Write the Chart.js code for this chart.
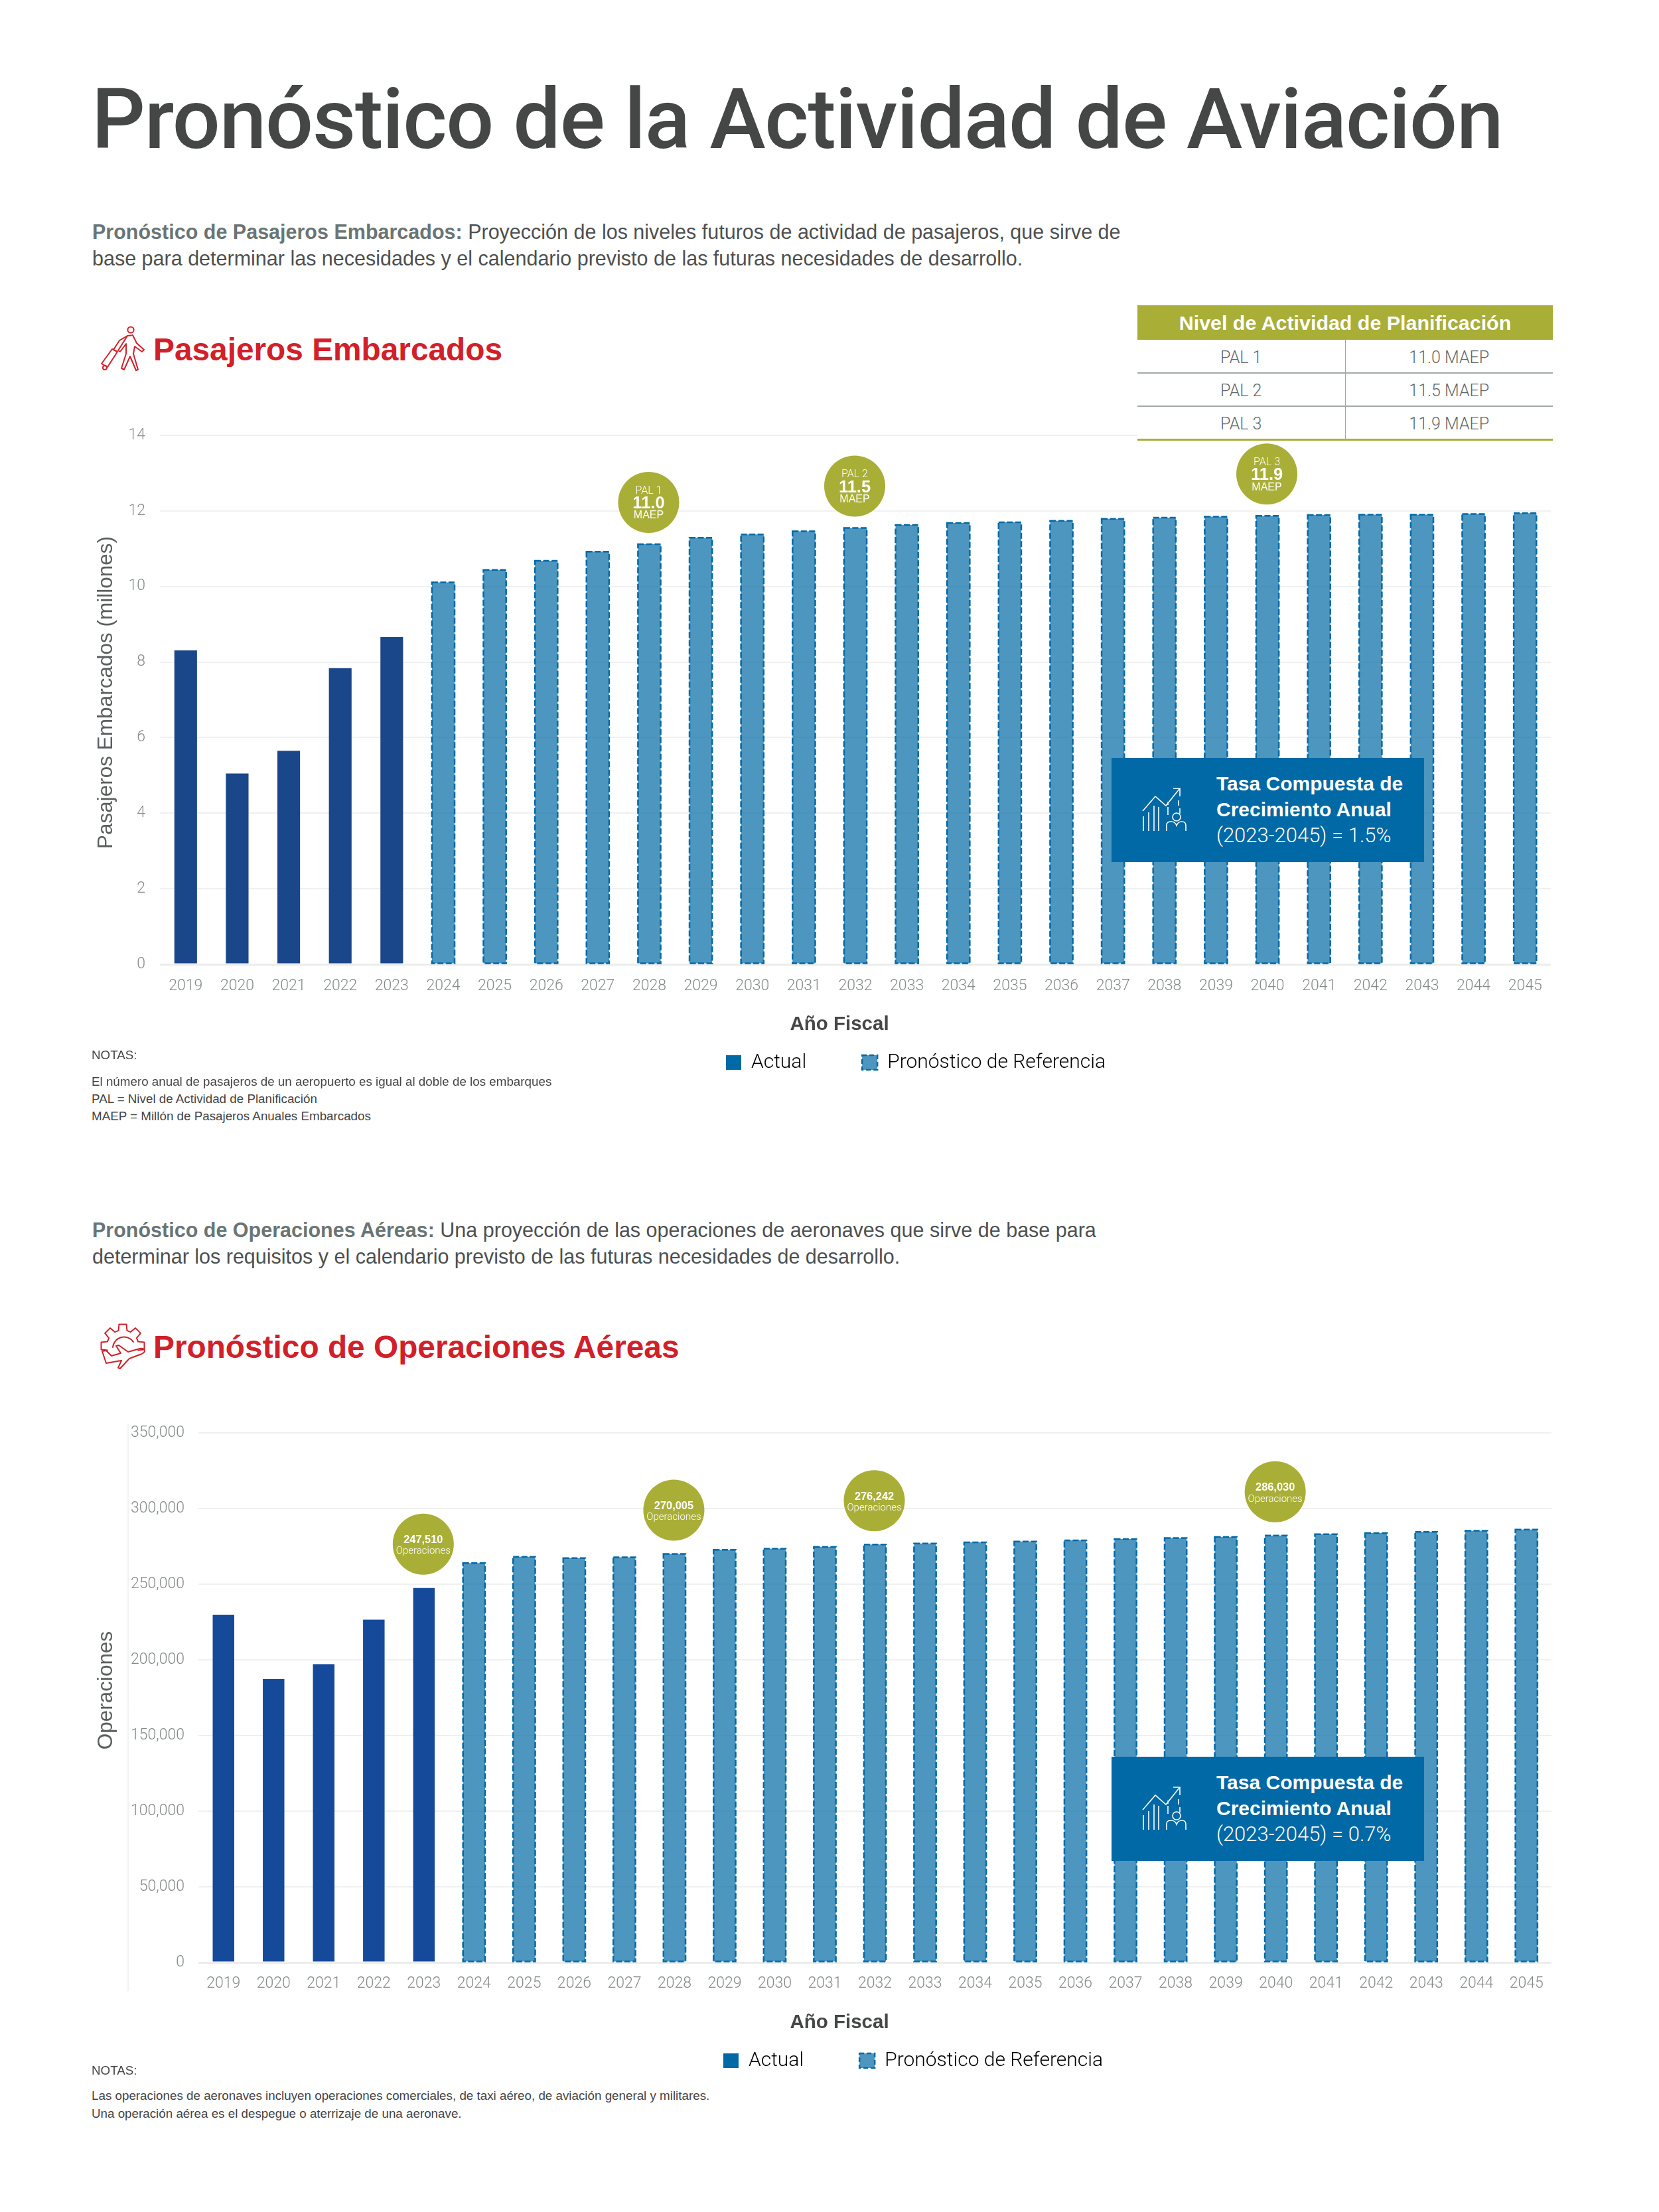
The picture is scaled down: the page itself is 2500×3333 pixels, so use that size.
<!DOCTYPE html>
<html lang="es">
<head>
<meta charset="utf-8">
<title>Pronóstico de la Actividad de Aviación</title>
<script src="https://cdn.jsdelivr.net/npm/chart.js@4"></script>
<style>
  html, body { margin: 0; padding: 0; background: #fff; }
  #pagina { position: relative; width: 2500px; height: 3333px; overflow: hidden; font-family: "Liberation Sans", sans-serif; }
  #pagina > * { position: absolute; }
  canvas { left: 0; z-index: 1; }
  .sobre { z-index: 2; white-space: nowrap; }
  h1 { margin: 0; left: 138px; top: 106px; font-family: Roboto, sans-serif; font-size: 127px; letter-spacing: -1.25px; line-height: 148px; font-weight: 500; color: #444746; white-space: nowrap; }
  .parrafo { left: 139px; font-size: 30.5px; line-height: 39.5px; color: #4d5050; white-space: nowrap; }
  .parrafo b { color: #6a7574; }
  h2 { margin: 0; left: 231px; font-size: 47.8px; line-height: 60px; font-weight: bold; color: #d2202a; white-space: nowrap; }
  .notas { left: 138px; font-size: 18.8px; color: #444; white-space: nowrap; }
  .notas div { position: absolute; left: 0; line-height: 26px; }
  #tabla { left: 1714px; top: 460px; width: 626px; height: 204px; background: #fff; border-collapse: collapse; table-layout: fixed; font-size: 25px; color: #5f6868; }
  #tabla th { height: 51px; padding: 0; background: #a9ae37; color: #fff; font-size: 30.4px; font-weight: bold; }
  #tabla td { height: 49px; padding: 3px 0 0 0; box-sizing: border-box; text-align: center; border-bottom: 2px solid #a3a8a8; font-family: Roboto, sans-serif; font-weight: 300; }
  #tabla td + td { border-left: 1.5px solid #a3a8a8; }
  #tabla tr:last-child td { border-bottom: 3px solid #a9ae37; }
  .tasa { left: 1675px; width: 471px; height: 157px; background: #0169a5; color: #fff; font-size: 30px; }
  .tasa div { position: absolute; left: 158px; line-height: 39px; }
  .tasa svg { position: absolute; left: 46px; top: 44px; }
</style>
</head>
<body>
<div id="pagina">
  <h1>Pronóstico de la Actividad de Aviación</h1>

  <div class="parrafo" style="top:330px"><b>Pronóstico de Pasajeros Embarcados:</b> Proyección de los niveles futuros de actividad de pasajeros, que sirve de<br>base para determinar las necesidades y el calendario previsto de las futuras necesidades de desarrollo.</div>

  <svg class="sobre" style="left:150px;top:491px" width="69" height="68" viewBox="0 0 69 68" fill="none" stroke="#d2202a" stroke-width="2" stroke-linejoin="round" stroke-linecap="round">
    <circle cx="47" cy="6" r="4.6"/>
    <path d="M42 15 L50 14 L56 26 L67 36 L64 39 L53 31 L51 42 L58 66 L55 67 L46 46 L37 66 L33 64 L40 42 L40 27 L31 39 L28 37 Z"/>
    <path d="M19 35 L27 39 L12 62 L3 57 Z"/>
    <path d="M21 36 L30 22 L42 15"/>
    <circle cx="8" cy="63" r="3"/>
  </svg>
  <h2 style="top:497px">Pasajeros Embarcados</h2>

  <canvas id="graficoPasajeros" width="2500" height="1087" style="top:620px"></canvas>

  <table id="tabla" class="sobre">
    <tr><th colspan="2">Nivel de Actividad de Planificación</th></tr>
    <tr><td>PAL 1</td><td>11.0 MAEP</td></tr>
    <tr><td>PAL 2</td><td>11.5 MAEP</td></tr>
    <tr><td>PAL 3</td><td>11.9 MAEP</td></tr>
  </table>

  <div class="tasa sobre" style="top:1142px">
    <svg class="icono-tasa" width="68" height="68" viewBox="0 0 68 68" fill="none" stroke="#fff" stroke-width="1.6"><path d="M2 44 V66 M10 38 V66 M18 28 V66 M25 30 V66 M39 30 V42 M39 22 V27 M55 20 V28 M57 32 V40 M1 36 L20 14 L36 28 L56 3 M47 2 H57 V14"/><circle cx="52" cy="45" r="6"/><path d="M37 66 V57 Q37 52 44 52 Q50 52 52 58 Q54 52 60 52 Q66 52 66 58 V66"/></svg>
    <div style="top:19px"><b>Tasa Compuesta de</b></div>
    <div style="top:58px"><b>Crecimiento Anual</b></div>
    <div style="top:97px;font-family:Roboto,sans-serif;font-weight:300;font-size:31px">(2023-2045) = 1.5%</div>
  </div>

  <div class="notas sobre" style="top:1577px">
    <div style="top:0">NOTAS:</div>
    <div style="top:40px">El número anual de pasajeros de un aeropuerto es igual al doble de los embarques</div>
    <div style="top:66px">PAL = Nivel de Actividad de Planificación</div>
    <div style="top:92px">MAEP = Millón de Pasajeros Anuales Embarcados</div>
  </div>

  <div class="parrafo" style="top:1834px"><b>Pronóstico de Operaciones Aéreas:</b> Una proyección de las operaciones de aeronaves que sirve de base para<br>determinar los requisitos y el calendario previsto de las futuras necesidades de desarrollo.</div>

  <svg id="iconoEngranaje" class="sobre" style="left:151px;top:1994px" width="68" height="70" viewBox="0 0 68 70" fill="none" stroke="#d2202a" stroke-width="2" stroke-linejoin="round" stroke-linecap="round">
    <path id="engranaje"/>
    <path d="M19 36 A17 17 0 0 1 50 28"/>
    <path d="M3 42 L9 41 L17 49 L31 45 L24 34 L28 33 L42 43 L60 38 Q67 37 67 42 Q66 45 60 47 L44 53 L30 68 L27 67 L32 56 L9 60 Z"/>
  </svg>
  <h2 style="top:2000px">Pronóstico de Operaciones Aéreas</h2>

  <canvas id="graficoOperaciones" width="2500" height="1091" style="top:2120px"></canvas>

  <div class="tasa sobre" style="top:2647px">
    <svg class="icono-tasa" width="68" height="68" viewBox="0 0 68 68" fill="none" stroke="#fff" stroke-width="1.6"><path d="M2 44 V66 M10 38 V66 M18 28 V66 M25 30 V66 M39 30 V42 M39 22 V27 M55 20 V28 M57 32 V40 M1 36 L20 14 L36 28 L56 3 M47 2 H57 V14"/><circle cx="52" cy="45" r="6"/><path d="M37 66 V57 Q37 52 44 52 Q50 52 52 58 Q54 52 60 52 Q66 52 66 58 V66"/></svg>
    <div style="top:19px"><b>Tasa Compuesta de</b></div>
    <div style="top:58px"><b>Crecimiento Anual</b></div>
    <div style="top:97px;font-family:Roboto,sans-serif;font-weight:300;font-size:31px">(2023-2045) = 0.7%</div>
  </div>

  <div class="notas sobre" style="top:3107px">
    <div style="top:0">NOTAS:</div>
    <div style="top:38px">Las operaciones de aeronaves incluyen operaciones comerciales, de taxi aéreo, de aviación general y militares.</div>
    <div style="top:65px">Una operación aérea es el despegue o aterrizaje de una aeronave.</div>
  </div>
</div>

<script>
const anios = ["2019","2020","2021","2022","2023","2024","2025","2026","2027","2028","2029","2030","2031","2032","2033","2034","2035","2036","2037","2038","2039","2040","2041","2042","2043","2044","2045"];

const pasajerosActual = [8.31, 5.05, 5.65, 7.84, 8.66];
const pasajerosPronostico = [10.11, 10.44, 10.68, 10.92, 11.12, 11.29, 11.38, 11.46, 11.55, 11.63, 11.68, 11.70, 11.74, 11.79, 11.82, 11.85, 11.87, 11.89, 11.90, 11.90, 11.92, 11.94];
const pasajerosTicks = [0, 2, 4, 6, 8, 10, 12, 14];

const operacionesActual = [229800, 187300, 197100, 226500, 247510];
const operacionesPronostico = [263900, 268100, 267200, 267800, 270005, 272700, 273500, 274700, 276242, 276900, 277600, 278200, 279000, 279800, 280500, 281300, 282100, 283000, 283800, 284500, 285300, 286030];
const operacionesTicks = [0, 50000, 100000, 150000, 200000, 250000, 300000, 350000];

const burbujasPasajerosAnios = ["2028", "2032", "2040"];
const burbujasPasajerosNombres = ["PAL 1", "PAL 2", "PAL 3"];
const burbujasPasajerosValores = ["11.0", "11.5", "11.9"];

const burbujasOperacionesAnios = ["2023", "2028", "2032", "2040"];
const burbujasOperacionesValores = ["247,510", "270,005", "276,242", "286,030"];

const nombresLeyenda = ["Actual", "Pronóstico de Referencia"];

const AZUL = "#0169a5";
const RELLENO = "rgba(1, 105, 165, 0.7)";
const OLIVA = "#a9ae37";
const TEXTO = "Liberation Sans";
const LIGERA = "Roboto";

// dibuja el contorno punteado, las burbujas y los titulos de los ejes
const extras = {
  id: "extras",
  afterLayout(chart) {
    const o = chart.options.plugins.extras;
    chart.legend.left = o.leyendaX;
    chart.legend.top = o.leyendaY;
  },
  afterDatasetsDraw(chart) {
    const ctx = chart.ctx;
    ctx.save();
    ctx.strokeStyle = AZUL;
    ctx.lineWidth = 2.5;
    ctx.setLineDash([9, 3.5]);
    chart.getDatasetMeta(1).data.forEach((barra, i) => {
      if (chart.data.datasets[1].data[i] === null) return;
      ctx.strokeRect(barra.x - barra.width / 2, barra.y, barra.width, barra.base - barra.y);
    });
    ctx.restore();
  },
  afterDraw(chart) {
    const o = chart.options.plugins.extras;
    const ctx = chart.ctx;
    const area = chart.chartArea;
    ctx.save();
    ctx.textAlign = "center";
    ctx.textBaseline = "middle";

    if (o.lineaEje) {
      ctx.strokeStyle = "#e6e6e6";
      ctx.lineWidth = 1;
      ctx.beginPath();
      ctx.moveTo(area.left - 106, area.top - 14);
      ctx.lineTo(area.left - 106, area.bottom + 43);
      ctx.stroke();
    }

    o.burbujas.forEach((b) => {
      const i = anios.indexOf(b.anio);
      const serie = chart.data.datasets[0].data[i] === null ? 1 : 0;
      const barra = chart.getDatasetMeta(serie).data[i];
      const y = barra.y - o.alturaBurbuja;
      ctx.fillStyle = OLIVA;
      ctx.beginPath();
      ctx.arc(barra.x - 1, y, 46, 0, Math.PI * 2);
      ctx.fill();
      ctx.fillStyle = "#fff";
      b.lineas.forEach((l) => {
        ctx.font = l.font;
        ctx.fillText(l.texto, barra.x - 1, y + l.dy);
      });
    });

    ctx.fillStyle = "#444746";
    ctx.font = "bold 29.5px '" + TEXTO + "'";
    ctx.fillText("Año Fiscal", 1265, area.bottom + 91);

    ctx.fillStyle = "#5a5f5f";
    ctx.font = "31.5px '" + TEXTO + "'";
    ctx.translate(160, (area.top + area.bottom) / 2 - 11);
    ctx.rotate(-Math.PI / 2);
    ctx.fillText(o.tituloY, 0, 0);
    ctx.restore();
  },
};

function crearGrafico(id, actual, pronostico, ticks, o) {
  const grafico = new Chart(document.getElementById(id), {
    type: "bar",
    plugins: [extras],
    data: {
      labels: anios,
      datasets: [
        {
          label: nombresLeyenda[0],
          data: actual.concat(pronostico.map(() => null)),
          backgroundColor: o.colorActual,
          barPercentage: o.anchoBarra,
          categoryPercentage: 1,
        },
        {
          label: nombresLeyenda[1],
          data: actual.map(() => null).concat(pronostico),
          backgroundColor: RELLENO,
          barPercentage: 0.44,
          categoryPercentage: 1,
        },
      ],
    },
    options: {
      responsive: false,
      maintainAspectRatio: false,
      animation: false,
      layout: { autoPadding: false, padding: { top: o.margenArriba, right: o.margenDerecha, left: 0, bottom: 0 } },
      scales: {
        x: {
          grouped: false,
          stacked: true,
          grid: { display: false },
          border: { display: false },
          afterFit: (s) => { s.height = 60; },
          ticks: {
            autoSkip: false,
            maxRotation: 0,
            padding: o.rellenoAnios,
            color: "#858a8a",
            font: { family: LIGERA, weight: "300", size: 23 },
          },
        },
        y: {
          min: 0,
          max: ticks[ticks.length - 1],
          afterFit: (s) => { s.width = o.anchoEjeY; },
          afterBuildTicks: (s) => { s.ticks = ticks.map((v) => ({ value: v })); },
          grid: {
            color: (c) => (c.tick.value === 0 ? "#ececec" : "#f0f0f0"),
            lineWidth: (c) => (c.tick.value === 0 ? 3 : 2),
            drawTicks: false,
          },
          border: { display: false },
          ticks: {
            padding: o.rellenoTicks,
            color: "#858a8a",
            font: { family: LIGERA, weight: "300", size: 23 },
            callback: (v) => v.toLocaleString("en-US"),
          },
        },
      },
      plugins: {
        tooltip: { enabled: false },
        legend: {
          position: "bottom",
          align: "start",
          labels: {
            boxWidth: 23,
            boxHeight: 22,
            padding: 84,
            color: "#4d5050",
            font: { family: LIGERA, weight: "300", size: 30, lineHeight: 1 },
            generateLabels: () => [
              { text: nombresLeyenda[0], fillStyle: AZUL, strokeStyle: AZUL, lineWidth: 0 },
              { text: nombresLeyenda[1], fillStyle: RELLENO, strokeStyle: AZUL, lineWidth: 2.5, lineDash: [7, 4] },
            ],
          },
        },
        extras: o.extras,
      },
    },
  });
  // ajusta el alto del lienzo para que la linea de cero caiga donde corresponde
  grafico.resize(2500, grafico.height - (grafico.chartArea.bottom - o.lineaCero));
}

crearGrafico("graficoPasajeros", pasajerosActual, pasajerosPronostico, pasajerosTicks, {
  colorActual: "#1a4789",
  anchoBarra: 0.44,
  anchoEjeY: 241,
  rellenoTicks: 22,
  rellenoAnios: 11,
  margenArriba: 36,
  margenDerecha: 163,
  lineaCero: 833,
  extras: {
    leyendaX: 1010,
    leyendaY: 882,
    tituloY: "Pasajeros Embarcados (millones)",
    alturaBurbuja: 63,
    lineaEje: false,
    burbujas: burbujasPasajerosAnios.map((anio, i) => ({
      anio,
      lineas: [
        { texto: burbujasPasajerosNombres[i], font: "300 16px " + LIGERA, dy: -17 },
        { texto: burbujasPasajerosValores[i], font: "bold 25.5px '" + TEXTO + "'", dy: 2 },
        { texto: "MAEP", font: "16px '" + TEXTO + "'", dy: 20 },
      ],
    })),
  },
});

crearGrafico("graficoOperaciones", operacionesActual, operacionesPronostico, operacionesTicks, {
  colorActual: "#154a9a",
  anchoBarra: 0.43,
  anchoEjeY: 299,
  rellenoTicks: 21,
  rellenoAnios: 10,
  margenArriba: 39,
  margenDerecha: 162,
  lineaCero: 837,
  extras: {
    leyendaX: 1006,
    leyendaY: 886,
    tituloY: "Operaciones",
    alturaBurbuja: 66,
    lineaEje: true,
    burbujas: burbujasOperacionesAnios.map((anio, i) => ({
      anio,
      lineas: [
        { texto: burbujasOperacionesValores[i], font: "bold 16.4px '" + TEXTO + "'", dy: -6 },
        { texto: "Operaciones", font: "300 15px " + LIGERA, dy: 11 },
      ],
    })),
  },
});

// contorno del engranaje del segundo titulo: de izquierda a derecha por arriba
let puntos = [];
for (let i = -2; i <= 2; i++) {
  const a = -Math.PI / 2 + (i * Math.PI) / 4;
  [[-0.27, 24], [-0.17, 33], [0.17, 33], [0.27, 24]].forEach(([d, r]) => {
    puntos.push((34 + r * Math.cos(a + d)).toFixed(1) + " " + (34 + r * Math.sin(a + d)).toFixed(1));
  });
}
document.getElementById("engranaje").setAttribute("d", "M" + puntos.join(" L"));
</script>
</body>
</html>
